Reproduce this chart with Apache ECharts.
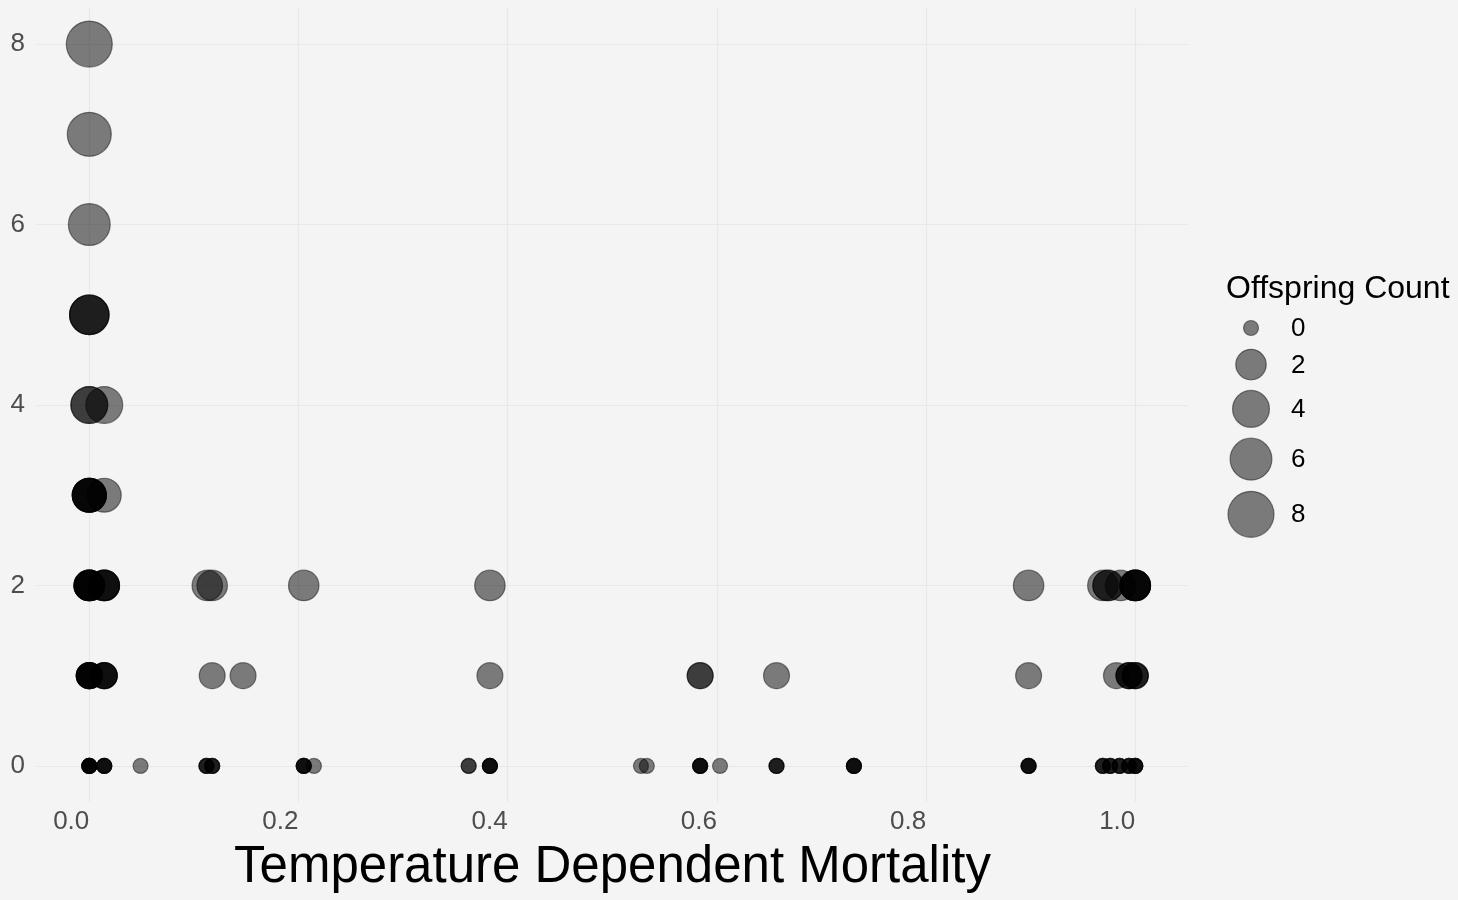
<!DOCTYPE html>
<html>
<head>
<meta charset="utf-8">
<script src="https://cdn.jsdelivr.net/npm/echarts@6/dist/echarts.min.js"></script>
<style>
html,body{margin:0;padding:0;background:#f4f4f4;}
#chart{width:1458px;height:900px;}
</style>
</head>
<body>
<div id="chart"></div>
<script>
// Observations: mortality (x), offspring count (y), number of overlapping observations
var mortality = [0.0,0.0,0.0,0.0,0.0,0.0143,0.0,0.0143,0.0,0.0143,0.0,0.0143,0.0,0.0143,
  0.1128,0.1175,0.205,0.1175,0.147,0.049,0.112,0.1175,0.205,0.2148,
  0.383,0.383,0.3627,0.383,
  0.5274,0.533,0.584,0.584,0.603,0.657,0.657,0.731,
  0.898,0.898,0.898,
  0.969,0.974,0.986,1.0,
  0.982,0.994,1.0,
  0.969,0.976,0.985,0.994,1.0];
var offspring = [8,7,6,5,4,4,3,3,2,2,1,1,0,0,
  2,2,2,1,1,0,0,0,0,0,
  2,1,0,0,
  0,0,1,0,0,1,0,0,
  2,1,0,
  2,2,2,2,
  1,1,1,
  0,0,0,0,0];
var overlap = [1,1,1,3,2,1,5,1,6,4,6,4,6,4,
  1,1,1,1,1,1,3,3,4,1,
  1,1,2,4,
  1,1,2,4,1,1,3,4,
  1,1,4,
  1,2,1,5,
  1,3,3,
  3,3,3,3,4];
var xTicks = [0.0,0.2,0.4,0.6,0.8,1.0];
var yTicks = [0,2,4,6,8];
var legendKeys = [0,2,4,6,8];

function sizeOf(v){ return 15 + 10.96*Math.sqrt(v); }

var points = [];
for (var i=0;i<mortality.length;i++){
  for (var k=0;k<overlap[i];k++) points.push([mortality[i], offspring[i]]);
}

// legend key vertical layout (pixel offsets inside legend grid)
var legendData = [];
var pos = 28;
for (var j=0;j<legendKeys.length;j++){
  if (j>0) pos += 1.2*Math.max(sizeOf(legendKeys[j-1]), sizeOf(legendKeys[j]));
  legendData.push([1, pos, legendKeys[j]]);
}

var FONT = '"Liberation Sans", Arial, Helvetica, sans-serif';
var chart = echarts.init(document.getElementById('chart'), null, {renderer:'canvas'});
chart.setOption({
  backgroundColor:'#f4f4f4',
  animation:false,
  title:{
    text:'Offspring Count', left:1221, top:268,
    textStyle:{fontFamily:FONT, fontSize:32, fontWeight:'normal', color:'#000'}
  },
  grid:[
    {left:37, right:270, top:8, bottom:98},
    {left:1231, top:300, width:40, height:300}
  ],
  xAxis:[{
    type:'value', gridIndex:0, min:-0.05, max:1.0504,
    axisLine:{show:false}, 
    axisTick:{show:false, customValues:xTicks},
    axisLabel:{customValues:xTicks, fontFamily:FONT, fontSize:26, color:'#4d4d4d', align:'right', margin:7,
      formatter:function(v){return v.toFixed(1);}},
    splitLine:{show:true, lineStyle:{color:'#e8e8e8', width:1.2}},
    name:'Temperature Dependent Mortality', nameLocation:'middle', nameGap:40,
    nameTextStyle:{fontFamily:FONT, fontSize:51, color:'#000'}
  },{
    type:'value', gridIndex:1, min:0, max:2, show:false
  }],
  yAxis:[{
    type:'value', gridIndex:0, min:-0.4, max:8.4,
    axisLine:{show:false},
    axisTick:{show:false, customValues:yTicks},
    axisLabel:{customValues:yTicks, fontFamily:FONT, fontSize:26, color:'#4d4d4d', margin:12},
    splitLine:{show:true, lineStyle:{color:'#e8e8e8', width:1.2}}
  },{
    type:'value', gridIndex:1, min:0, max:300, inverse:true, show:false
  }],
  series:[{
    type:'scatter', xAxisIndex:0, yAxisIndex:0,
    data:points,
    symbol:'circle',
    symbolSize:function(v){return sizeOf(v[1]);},
    itemStyle:{color:'rgba(0,0,0,0.5)', borderColor:'rgba(0,0,0,0.45)', borderWidth:1.2, opacity:1},
    emphasis:{disabled:true}
  },{
    type:'scatter', xAxisIndex:1, yAxisIndex:1,
    data:legendData,
    symbol:'circle',
    symbolSize:function(v){return sizeOf(v[2]);},
    itemStyle:{color:'rgba(0,0,0,0.5)', borderColor:'rgba(0,0,0,0.45)', borderWidth:1.2, opacity:1},
    label:{show:true, position:'inside', align:'left', offset:[40,1],
      formatter:function(p){return String(p.value[2]);},
      fontFamily:FONT, fontSize:26, color:'#000'},
    emphasis:{disabled:true}
  }]
});
</script>
</body>
</html>
